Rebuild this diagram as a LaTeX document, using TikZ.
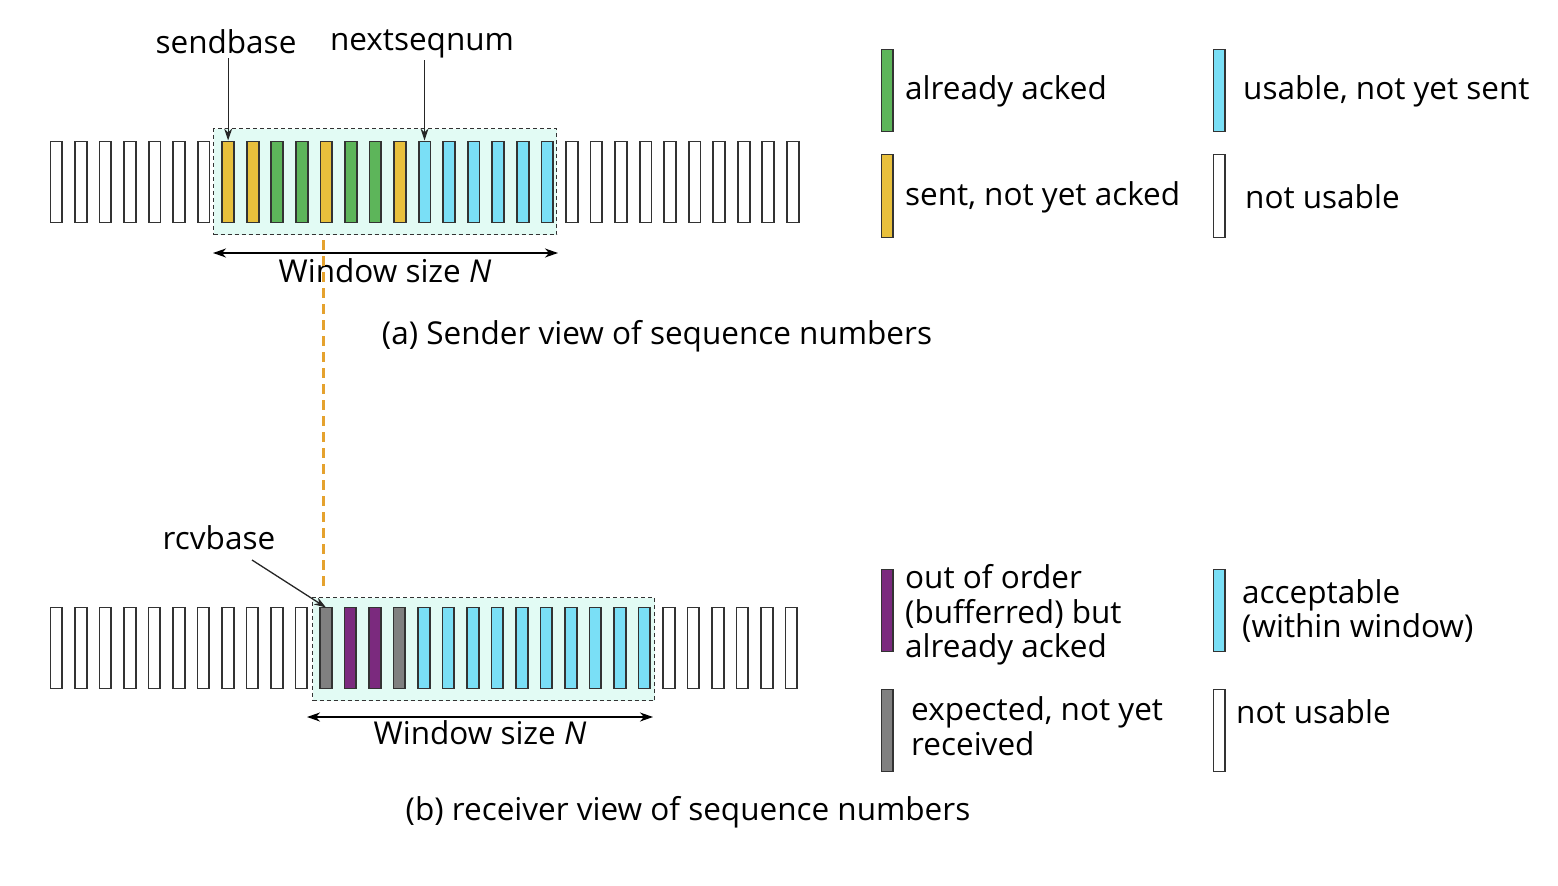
\documentclass[tikz,border=0pt]{standalone}
\usepackage{fontspec}
\setmainfont{Open Sans}
\usetikzlibrary{arrows.meta}
\definecolor{ackgreen}{HTML}{5DB55A}
\definecolor{sentyellow}{HTML}{E8C03C}
\definecolor{usablue}{HTML}{7ADFF6}
\definecolor{oopurple}{HTML}{7B2A7E}
\definecolor{expgray}{HTML}{808080}
\definecolor{winfill}{HTML}{E2FBF4}
\definecolor{cellline}{HTML}{333333}
\definecolor{dashorange}{HTML}{E5A22E}
\begin{document}
\begin{tikzpicture}[x=1pt,y=-1pt,
  cell/.style={draw=cellline, line width=1.8pt, minimum width=11.8pt, minimum height=81pt, inner sep=0pt, anchor=north west},
  winbox/.style={draw=cellline, dashed, dash pattern=on 4pt off 3pt, line width=1.2pt, fill=winfill, inner sep=0pt, anchor=north west},
  lbl/.style={font=\fontsize{31.5}{34.5}\selectfont, inner sep=0pt, align=left},
  ptr/.style={draw=black!85, line width=1.3pt, -{Stealth[length=12pt,width=8pt]}},
  dbl/.style={draw=black, line width=1.3pt, {Stealth[length=13pt,width=9pt,inset=4pt]}-{Stealth[length=13pt,width=9pt,inset=4pt]}},
  linkline/.style={draw=dashorange, line width=3pt, dash pattern=on 10pt off 6pt}
]
\useasboundingbox (0,0) rectangle (1558,886);

% ---------- sender ----------
\node[winbox, minimum width=343pt, minimum height=106pt] (swin) at (213,128) {};
\foreach \c [count=\i from 0] in {white,white,white,white,white,white,white,
  sentyellow,sentyellow,ackgreen,ackgreen,sentyellow,ackgreen,ackgreen,sentyellow,
  usablue,usablue,usablue,usablue,usablue,usablue,
  white,white,white,white,white,white,white,white,white,white}
  \node[cell, fill=\c] (s\i) at ({49.5+24.55*\i},140.5) {};

\node[lbl] (sb) at (226,42) {sendbase};
\node[lbl] (nsn) at (422,44) {nextseqnum};
\draw[ptr] ([yshift=-4pt]sb.south -| s7.north) -- (s7.north);
\draw[ptr] ([yshift=-2pt]nsn.south -| s15.north) -- (s15.north);

\coordinate (swa) at (213,253);
\coordinate (swb) at (558,253);
\draw[dbl] (swa) -- (swb);
\node[lbl] (swl) at (385,271) {Window size \textit{N}};

\node[lbl] (capa) at (657,336) {(a) Sender view of sequence numbers};

% ---------- receiver ----------
\node[winbox, minimum width=342pt, minimum height=103pt] (rwin) at (312,597) {};
\foreach \c [count=\i from 0] in {white,white,white,white,white,white,white,white,white,white,white,
  expgray,oopurple,oopurple,expgray,
  usablue,usablue,usablue,usablue,usablue,usablue,usablue,usablue,usablue,usablue,
  white,white,white,white,white,white}
  \node[cell, fill=\c] (r\i) at ({49.5+24.5*\i},606.5) {};

\node[lbl] (rb) at (219,538) {rcvbase};
\coordinate (rbs) at (252,560);
\draw[ptr] (rbs) -- ([xshift=7pt,yshift=-1pt]r11.north west);

\coordinate (rwa) at (307,717);
\coordinate (rwb) at (653,717);
\draw[dbl] (rwa) -- (rwb);
\node[lbl] (rwl) at (480,733) {Window size \textit{N}};

\node[lbl] (capb) at (688,812) {(b) receiver view of sequence numbers};

% ---------- link ----------
\coordinate (la) at (323,240);
\coordinate (lb) at (323,586);
\draw[linkline] (la) -- (lb);

% ---------- sender legend ----------
\node[cell, fill=ackgreen, minimum height=82pt] (lg1) at (880.5,48.5) {};
\node[lbl, anchor=west] (lt1) at (905,91) {already acked};
\node[cell, fill=usablue, minimum height=82pt] (lg2) at (1212.5,48.5) {};
\node[lbl, anchor=west] (lt2) at (1243,91) {usable, not yet sent};
\node[cell, fill=sentyellow, minimum height=83pt] (lg3) at (880.5,153.5) {};
\node[lbl, anchor=west] (lt3) at (905,197) {sent, not yet acked};
\node[cell, fill=white, minimum height=83pt] (lg4) at (1212.5,153.5) {};
\node[lbl, anchor=west] (lt4) at (1245,197) {not usable};

% ---------- receiver legend ----------
\node[cell, fill=oopurple, minimum height=82pt] (lr1) at (880.5,568.5) {};
\node[lbl, anchor=west] (lr1t) at (905,615) {out of order\\(bufferred) but\\already acked};
\node[cell, fill=usablue, minimum height=82pt] (lr2) at (1212.5,568.5) {};
\node[lbl, anchor=west] (lr2t) at (1242,611) {acceptable\\(within window)};
\node[cell, fill=expgray, minimum height=82pt] (lr3) at (880.5,688.5) {};
\node[lbl, anchor=west] (lr3t) at (911,726) {expected, not yet\\received};
\node[cell, fill=white, minimum height=82pt] (lr4) at (1212.5,688.5) {};
\node[lbl, anchor=west] (lr4t) at (1236,712) {not usable};
\end{tikzpicture}
\end{document}
